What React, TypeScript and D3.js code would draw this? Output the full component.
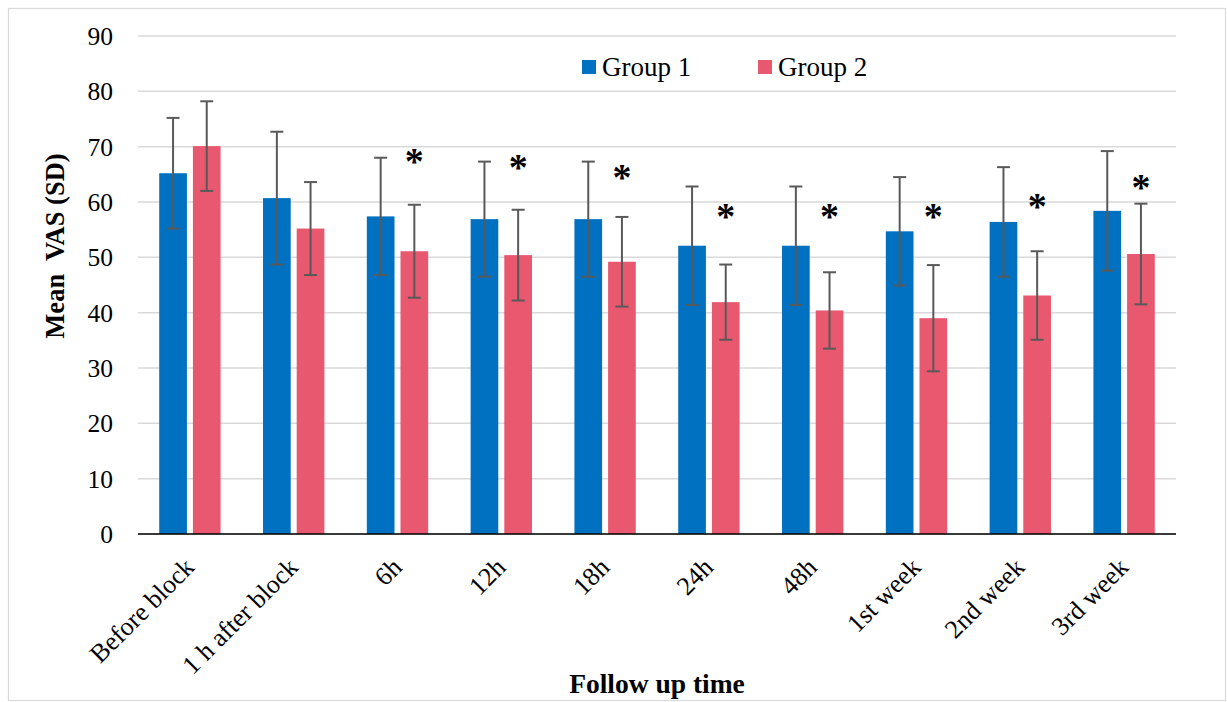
import * as d3 from 'd3';

// follow-up time points
const categories = ['Before block', '1 h after block', '6h', '12h', '18h', '24h', '48h', '1st week', '2nd week', '3rd week'];
const seriesNames = ['Group 1', 'Group 2'];

// means and SD
const group1Mean = [65.2, 60.7, 57.4, 56.9, 56.9, 52.1, 52.1, 54.7, 56.4, 58.4];
const group1SD = [10.0, 12.0, 10.6, 10.4, 10.4, 10.7, 10.7, 9.8, 9.9, 10.8];
const group2Mean = [70.1, 55.2, 51.1, 50.4, 49.2, 41.9, 40.4, 39.0, 43.1, 50.6];
const group2SD = [8.1, 8.4, 8.4, 8.2, 8.1, 6.8, 6.9, 9.6, 8.0, 9.1];

// where the significance stars sit (value units), null = none
const starLevel = [null, null, 68.1, 67.0, 65.2, 58.2, 58.2, 58.2, 60.0, 63.4];

const yTicks = [0, 10, 20, 30, 40, 50, 60, 70, 80, 90];

const colors = ['#0070C0', '#E8586F'];
const font = '"Liberation Serif", "Times New Roman", serif';

export default function App() {
  const width = 1227;
  const height = 702;
  const plot = { left: 138, right: 1176, top: 36, bottom: 534 };

  const x = d3.scaleBand().domain(categories).range([plot.left, plot.right]).padding(0);
  const xs = d3.scaleBand().domain(seriesNames).range([0, x.bandwidth()]).paddingInner(0.178).paddingOuter(0.63);
  const y = d3.scaleLinear().domain([0, 90]).range([plot.bottom, plot.top]);

  const series = [
    { name: seriesNames[0], mean: group1Mean, sd: group1SD, color: colors[0] },
    { name: seriesNames[1], mean: group2Mean, sd: group2SD, color: colors[1] },
  ];

  const capW = 6.5;

  return (
    <svg width={width} height={height} style={{ position: 'absolute', left: 0, top: 0, fontFamily: font }}>
      <rect x={8.5} y={8.5} width={1217} height={692} fill="#fff" stroke="#d9d9d9" strokeWidth={1.2} />

      {/* gridlines */}
      {yTicks.map(t => (
        <line key={t} x1={plot.left} x2={plot.right} y1={y(t)} y2={y(t)} stroke="#d9d9d9" strokeWidth={1.5} />
      ))}

      {/* y tick labels */}
      {yTicks.map(t => (
        <text key={'l' + t} x={113} y={y(t)} dy="0.35em" textAnchor="end" fontSize={25.5} fill="#000">{t}</text>
      ))}

      {/* bars */}
      {series.map(s => (
        <g key={s.name}>
          {categories.map((c, i) => (
            <rect key={c} x={x(c)! + xs(s.name)!} y={y(s.mean[i])} width={xs.bandwidth()}
              height={y(0) - y(s.mean[i])} fill={s.color} />
          ))}
        </g>
      ))}

      {/* error bars */}
      {series.map(s => (
        <g key={'e' + s.name} stroke="#595959" strokeWidth={2}>
          {categories.map((c, i) => {
            const cx = x(c)! + xs(s.name)! + xs.bandwidth() / 2;
            const hi = y(s.mean[i] + s.sd[i]);
            const lo = y(s.mean[i] - s.sd[i]);
            return (
              <g key={c}>
                <line x1={cx} x2={cx} y1={hi} y2={lo} />
                <line x1={cx - capW} x2={cx + capW} y1={hi} y2={hi} />
                <line x1={cx - capW} x2={cx + capW} y1={lo} y2={lo} />
              </g>
            );
          })}
        </g>
      ))}

      {/* axis line */}
      <line x1={plot.left} x2={plot.right} y1={y(0)} y2={y(0)} stroke="#000" strokeWidth={1.5} />

      {/* stars */}
      {categories.map((c, i) => starLevel[i] == null ? null : (
        <text key={'s' + c} x={x(c)! + xs(seriesNames[1])! + xs.bandwidth() / 2} y={y(starLevel[i]!) + 17}
          textAnchor="middle" fontSize={38} fontWeight="bold" fill="#000">*</text>
      ))}

      {/* x tick labels */}
      {categories.map(c => {
        const ax = x(c)! + x.bandwidth() / 2 - 7;
        const ay = plot.bottom + 22;
        return (
          <text key={'x' + c} x={ax} y={ay} textAnchor="end" fontSize={26} fill="#000"
            transform={`rotate(-45 ${ax} ${ay})`} dy="0.7em">{c}</text>
        );
      })}

      {/* legend */}
      {series.map((s, i) => {
        const lx = 582 + i * 176;
        return (
          <g key={'lg' + s.name}>
            <rect x={lx} y={60} width={14} height={14} fill={s.color} />
            <text x={lx + 20} y={76} fontSize={27} fill="#000">{s.name}</text>
          </g>
        );
      })}

      {/* axis titles */}
      <text transform={`translate(64 246) rotate(-90)`} textAnchor="middle"
        fontSize={26.5} fontWeight="bold" fill="#000" style={{ whiteSpace: 'pre' }}>Mean  VAS (SD)</text>
      <text x={(plot.left + plot.right) / 2} y={693} textAnchor="middle" fontSize={27.5} fontWeight="bold" fill="#000">
        Follow up time
      </text>
    </svg>
  );
}
